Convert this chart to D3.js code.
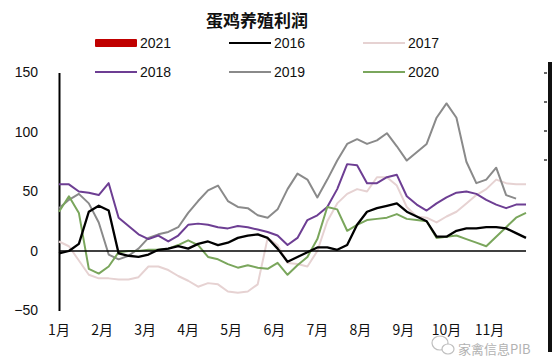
<!DOCTYPE html>
<html><head><meta charset="utf-8">
<script src="https://cdn.jsdelivr.net/npm/d3@7/dist/d3.min.js"></script>
<style>body{margin:0;background:#fff}svg{display:block}</style>
</head><body>
<svg id="c" width="552" height="359"></svg>
<script>
const title = "蛋鸡养殖利润";
const months = ["1月","2月","3月","4月","5月","6月","7月","8月","9月","10月","11月"];
const yTicks = [-50, 0, 50, 100, 150];
const seriesNames = ["2021","2016","2017","2018","2019","2020"];
const s2021 = [];
const s2016 = [-2,0,6,33,38,34,-2,-4,-5,-3,1,2,4,2,6,8,5,7,11,13,14,11,2,-9,-5,-1,3,3,1,5,22,33,36,38,40,33,29,25,12,12,17,19,19,20,20,19,15,11];
const s2017 = [8,4,-8,-20,-23,-23,-24,-24,-22,-13,-13,-16,-21,-25,-30,-27,-28,-34,-35,-34,-28,11,5,-10,-11,-13,0,25,40,48,52,50,62,62,55,37,29,28,24,29,33,40,47,52,60,57,56,56];
const s2018 = [56,56,50,49,47,57,28,21,14,10,13,8,13,22,23,22,20,19,21,20,18,16,13,5,11,26,30,37,52,73,72,57,57,62,64,46,39,34,40,45,49,50,48,43,39,36,39,39];
const s2019 = [36,43,48,40,24,-3,-7,-4,2,11,14,16,20,32,42,51,55,42,37,36,30,28,35,52,65,60,45,60,76,90,94,90,93,99,88,76,83,90,112,124,112,75,57,60,70,47,44,null];
const s2020 = [33,46,32,-15,-19,-13,-1,0,0,1,1,2,5,9,5,-5,-7,-11,-14,-12,-14,-15,-10,-20,-12,-5,10,37,35,17,22,26,27,28,31,27,26,25,11,12,13,10,7,4,12,20,28,32];
const colors = {"2021":"#c00000","2016":"#000000","2017":"#e6d2d2","2018":"#6d3e93","2019":"#8a8a8a","2020":"#7aa65c"};
const data = {"2021":s2021,"2016":s2016,"2017":s2017,"2018":s2018,"2019":s2019,"2020":s2020};

const svg = d3.select("#c");
svg.append("rect").attr("width",552).attr("height",359).attr("fill","#fff");
const x = d3.scaleLinear().domain([0,47]).range([59,526]);
const y = d3.scaleLinear().domain([-50,150]).range([310.5,72.5]);
const font = "'Liberation Sans', Arial, sans-serif";

svg.append("text").attr("x",257).attr("y",27).attr("text-anchor","middle")
  .attr("font-family","'Noto Sans CJK SC', sans-serif").attr("font-weight","bold")
  .attr("font-size",17).attr("fill","#111").text(title);

// legend
const legPos = [[95,43],[229,43],[363,43],[95,72],[229,72],[363,72]];
seriesNames.forEach((n,i)=>{
  const [lx,ly] = legPos[i];
  if(n==="2021"){
    svg.append("rect").attr("x",lx).attr("y",ly-4).attr("width",42).attr("height",8).attr("rx",1).attr("fill",colors[n]);
  } else {
    svg.append("line").attr("x1",lx).attr("x2",lx+42).attr("y1",ly).attr("y2",ly)
      .attr("stroke",colors[n]).attr("stroke-width",2);
  }
  svg.append("text").attr("x",lx+45).attr("y",ly+5).attr("font-family",font)
    .attr("font-size",14).attr("fill","#111").text(n);
});

// y axis
const ya = svg.append("g").attr("transform","translate(59,0)")
  .call(d3.axisLeft(y).tickValues(yTicks).tickSize(0).tickPadding(21));
ya.select(".domain").attr("stroke","#000").attr("stroke-width",2);
ya.selectAll("text").attr("font-family",font).attr("font-size",14).attr("fill","#111");

// lines
const line = d3.line().defined(d=>d!=null).x((d,i)=>x(i)).y(d=>y(d));
["2017","2019","2018","2020","2016"].forEach(n=>{
  svg.append("path").datum(data[n]).attr("d",line).attr("fill","none")
    .attr("stroke",colors[n]).attr("stroke-width", n==="2016"?2.3:2).attr("stroke-linejoin","round");
});
svg.append("path").datum(s2021).attr("d",line).attr("fill","none").attr("stroke",colors["2021"]).attr("stroke-width",3);

// zero axis
svg.append("line").attr("x1",x(0)).attr("x2",x(47)).attr("y1",y(0)).attr("y2",y(0))
  .attr("stroke","#000").attr("stroke-width",1.5);

// month labels
months.forEach((m,i)=>{
  svg.append("text").attr("x",x(i*52/12)).attr("y",335).attr("text-anchor","middle")
    .attr("font-family","'Noto Sans CJK SC', sans-serif").attr("font-size",14).attr("fill","#111").text(m);
});

// watermark
const wm = svg.append("g").attr("opacity",0.75);
wm.append("ellipse").attr("cx",440).attr("cy",343).attr("rx",8).attr("ry",7).attr("fill","#fff").attr("stroke","#aaa").attr("stroke-width",1.2);
wm.append("ellipse").attr("cx",448).attr("cy",349).attr("rx",6).attr("ry",5).attr("fill","#fff").attr("stroke","#aaa").attr("stroke-width",1.2);
wm.append("text").attr("x",458).attr("y",354).attr("font-family","'Noto Sans CJK SC', sans-serif")
  .attr("font-size",13).attr("fill","#999").attr("stroke","#fff").attr("stroke-width",2).attr("paint-order","stroke").text("家禽信息PIB");

// right edge strip
svg.append("rect").attr("x",548).attr("y",62).attr("width",4).attr("height",290).attr("fill","#111");
[73,102,131,160].forEach(v=>{
  svg.append("line").attr("x1",544).attr("x2",547).attr("y1",v).attr("y2",v).attr("stroke","#333").attr("stroke-width",1.5);
});
</script>
</body></html>
